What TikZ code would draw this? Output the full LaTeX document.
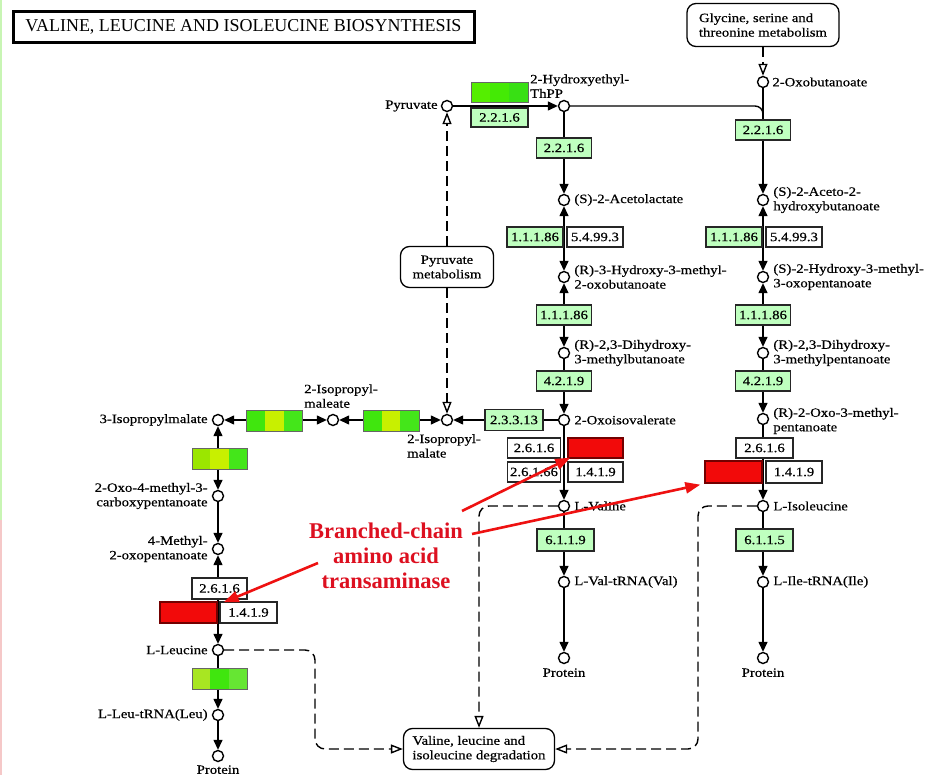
\documentclass[tikz,border=0pt]{standalone}
\usepackage{fontspec}
\setmainfont{Liberation Serif}
\newfontfamily\kf[FakeStretch=1.16,FakeBold=0.5]{Liberation Serif}
\usetikzlibrary{arrows.meta,calc}

\definecolor{enzgreen}{HTML}{BFFFBF}
\definecolor{hitred}{HTML}{F20A0A}
\definecolor{annot}{HTML}{DD1020}
\definecolor{arrred}{HTML}{EE1111}
\definecolor{gA}{HTML}{40E60E}
\definecolor{gB}{HTML}{C8F000}
\definecolor{gC}{HTML}{44E61A}
\definecolor{gD}{HTML}{9BE600}
\definecolor{gE}{HTML}{A8E622}
\definecolor{gF}{HTML}{66E633}
\definecolor{gT1}{HTML}{55EE00}
\definecolor{gT2}{HTML}{44EA05}
\definecolor{gT3}{HTML}{38E014}
\definecolor{edgegreen}{HTML}{C8F5B4}
\definecolor{edgepink}{HTML}{F5C8C8}

\tikzset{
  txt/.style={font=\kf\fontsize{12.7}{14.5}\selectfont},
  cpd/.style={circle,draw,fill=white,line width=1.4pt,minimum size=11pt,inner sep=0pt},
  ec/.style={txt,rectangle,draw=black!85,line width=1.3pt,fill=enzgreen,
             minimum width=55pt,minimum height=20pt,inner sep=0pt},
  ecw/.style={ec,fill=white},
  ecred/.style={ec,fill=hitred,draw=red!45!black},
  segbox/.style n args={3}{rectangle,draw=black!60,line width=1pt,
     minimum width=56pt,minimum height=21pt,inner sep=0pt,fill=#2,
     path picture={
       \fill[#1] (path picture bounding box.north west) rectangle
         ($(path picture bounding box.south west)!0.3333!(path picture bounding box.south east)$);
       \fill[#3] ($(path picture bounding box.north west)!0.6667!(path picture bounding box.north east)$)
         rectangle (path picture bounding box.south east);
     }},
  mapbox/.style={txt,rectangle,rounded corners=9pt,draw,line width=1.3pt,fill=white,
                 inner sep=0pt,align=left},
  lbl/.style={txt,inner sep=0pt,align=left},
  lblr/.style={txt,inner sep=0pt,align=right},
  rxn/.style={line width=1.4pt},
  fw/.style={rxn,-{Triangle[length=10pt,width=9pt]}},
  bw/.style={rxn,{Triangle[length=10pt,width=9pt]}-{Triangle[length=10pt,width=9pt]}},
  maplink/.style={line width=1.4pt,dash pattern=on 10pt off 5pt,rounded corners=10pt,
                  -{Triangle[open,length=12pt,width=9pt,fill=white]}},
  redarrow/.style={arrred,line width=2.6pt,-{Triangle[length=15pt,width=11pt]}},
}

\begin{document}
\begin{tikzpicture}[x=1pt,y=-1pt]
\useasboundingbox (0,0) rectangle (926,775);
\fill[white] (0,0) rectangle (926,775);
% thin coloured strip along the left edge
\fill[edgegreen] (0,0) rectangle (2,520);
\fill[edgepink] (0,520) rectangle (2,775);

% title
\node[draw,line width=3pt,minimum width=461pt,minimum height=31pt,inner sep=0pt] (title) at (243.5,27)
  {\resizebox{436pt}{12pt}{VALINE, LEUCINE AND ISOLEUCINE BIOSYNTHESIS}};

% ---------- compounds ----------
\node[cpd] (pyr)   at (447,106) {};
\node[cpd] (thpp)  at (564,106) {};
\node[cpd] (oxobut) at (763,82) {};
\node[cpd] (acl)   at (564,200) {};
\node[cpd] (ahb)   at (763,200) {};
\node[cpd] (hmob)  at (564,277) {};
\node[cpd] (hmop)  at (763,277) {};
\node[cpd] (dhmb)  at (564,353) {};
\node[cpd] (dhmp)  at (763,353) {};
\node[cpd] (oiv)   at (564,420) {};
\node[cpd] (omp)   at (763,419) {};
\node[cpd] (val)   at (564,506) {};
\node[cpd] (ile)   at (763,506) {};
\node[cpd] (valt)  at (564,582) {};
\node[cpd] (ilet)  at (763,582) {};
\node[cpd] (protv) at (564,658) {};
\node[cpd] (proti) at (763,658) {};
\node[cpd] (ipm)   at (447,420) {};
\node[cpd] (ipmal) at (333,420) {};
\node[cpd] (ipm3)  at (218,420) {};
\node[cpd] (omcp)  at (218,496) {};
\node[cpd] (mop)   at (218,549) {};
\node[cpd] (leu)   at (218,650) {};
\node[cpd] (leut)  at (218,715) {};
\node[cpd] (protl) at (218,756) {};

% ---------- linked maps ----------
\node[mapbox,minimum width=152pt,minimum height=43pt] (glymap) at (763,25)
  {Glycine, serine and\\threonine metabolism};
\node[mapbox,minimum width=93pt,minimum height=41pt,align=center] (pyrmap) at (447,267)
  {Pyruvate\\metabolism};
\node[mapbox,minimum width=151pt,minimum height=41pt] (degmap) at (479,749)
  {Valine, leucine and\\isoleucine degradation};

% ---------- reactions ----------
\draw[fw] (pyr) -- (thpp);
\draw[fw] (thpp) -- (acl);
\coordinate (ilejoin) at (763,125);
\draw[rxn,rounded corners=8pt] (thpp.east) -| (ilejoin);
\draw[fw] (oxobut) -- (ahb);
\draw[bw] (acl) -- (hmob);
\draw[bw] (hmob) -- (dhmb);
\draw[fw] (dhmb) -- (oiv);
\draw[bw] (ahb) -- (hmop);
\draw[bw] (hmop) -- (dhmp);
\draw[fw] (dhmp) -- (omp);
\draw[fw] (oiv) -- (val);
\draw[fw] (val) -- (valt);
\draw[fw] (valt) -- (protv);
\draw[fw] (omp) -- (ile);
\draw[fw] (ile) -- (ilet);
\draw[fw] (ilet) -- (proti);
\draw[fw] (oiv) -- (ipm);
\draw[bw] (ipm) -- (ipmal);
\draw[bw] (ipmal) -- (ipm3);
\draw[bw] (ipm3) -- (omcp);
\draw[fw] (omcp) -- (mop);
\draw[bw] (mop) -- (leu);
\draw[fw] (leu) -- (leut);
\draw[fw] (leut) -- (protl);

% ---------- links to other maps ----------
\draw[maplink] (pyrmap) -- (pyr);
\draw[maplink] (pyrmap) -- (ipm);
\draw[maplink] (glymap) -- (oxobut);
\coordinate (bendL) at (315,749);
\coordinate (bendR) at (698,749);
\draw[maplink] (leu.east) -| (bendL) -- (degmap.west);
\draw[maplink] (val.west) -| (degmap.north);
\draw[maplink] (ile.west) -| (bendR) -- (degmap.east);

% ---------- enzymes ----------
\node[segbox={gT1}{gT2}{gT3},minimum width=57pt,minimum height=20pt] (g_pdc) at (499.5,93) {};
\node[ec,minimum width=57pt,minimum height=19pt] (e_pyr) at (499.5,117.5) {2.2.1.6};
\node[ec] (e_v1) at (564,148) {2.2.1.6};
\node[ec] (e_i1) at (763,130) {2.2.1.6};
\node[ec,minimum width=56pt] (e_v2) at (535,237) {1.1.1.86};
\node[ecw,minimum width=56pt] (e_v2b) at (595,237) {5.4.99.3};
\node[ec,minimum width=56pt] (e_i2) at (734,237) {1.1.1.86};
\node[ecw,minimum width=56pt] (e_i2b) at (794,237) {5.4.99.3};
\node[ec] (e_v3) at (564,315) {1.1.1.86};
\node[ec] (e_i3) at (763,315) {1.1.1.86};
\node[ec] (e_v4) at (564,381) {4.2.1.9};
\node[ec] (e_i4) at (763,381) {4.2.1.9};
\node[ec,minimum width=58pt,minimum height=21pt] (e_ipms) at (514,420) {2.3.3.13};
\node[ecw,minimum width=53pt] (e_vt1) at (534,448) {2.6.1.6};
\node[ecred] (e_vt2) at (595.5,448) {};
\node[ecw,minimum width=53pt] (e_vt3) at (534,472) {2.6.1.66};
\node[ecw] (e_vt4) at (595.5,472) {1.4.1.9};
\node[ecw,minimum width=57pt] (e_it1) at (764.5,448) {2.6.1.6};
\node[ecred,minimum width=57pt,minimum height=22pt] (e_it2) at (733.5,472) {};
\node[ecw,minimum width=56pt,minimum height=22pt] (e_it3) at (794,472) {1.4.1.9};
\node[ec,minimum width=57pt,minimum height=22pt] (e_v5) at (565.5,540) {6.1.1.9};
\node[ec,minimum width=57pt,minimum height=22pt] (e_i5) at (764.5,540) {6.1.1.5};
\node[segbox={gA}{gB}{gC}] (g_ipmi) at (274.5,420.5) {};
\node[segbox={gA}{gB}{gC}] (g_ipmd) at (391,420.5) {};
\node[segbox={gD}{gB}{gC},minimum width=55pt] (g_lb) at (219.5,459) {};
\node[ecw,minimum width=55pt,minimum height=21pt] (e_lt1) at (219.5,588.5) {2.6.1.6};
\node[ecred,minimum width=57pt,minimum height=21pt] (e_lt2) at (188.5,612.5) {};
\node[ecw,minimum width=57pt,minimum height=21pt] (e_lt3) at (248.5,612.5) {1.4.1.9};
\node[segbox={gE}{gA}{gF},minimum width=55pt] (g_lrs) at (219.5,678.5) {};

% ---------- compound names ----------
\node[lblr,anchor=east] (t_pyr) at ([xshift=-3pt]pyr.west) {Pyruvate};
\node[lbl,anchor=south west] (t_thpp) at (530,98) {2-Hydroxyethyl-\\ThPP};
\node[lbl,anchor=west] (t_oxobut) at ([xshift=3pt]oxobut.east) {2-Oxobutanoate};
\node[lbl,anchor=west] (t_acl) at ([xshift=4pt]acl.east) {(S)-2-Acetolactate};
\node[lbl,anchor=west] (t_ahb) at ([xshift=4pt]ahb.east) {(S)-2-Aceto-2-\\hydroxybutanoate};
\node[lbl,anchor=west] (t_hmob) at ([xshift=4pt]hmob.east) {(R)-3-Hydroxy-3-methyl-\\2-oxobutanoate};
\node[lbl,anchor=west] (t_hmop) at ([xshift=4pt]hmop.east) {(S)-2-Hydroxy-3-methyl-\\3-oxopentanoate};
\node[lbl,anchor=west] (t_dhmb) at ([xshift=4pt]dhmb.east) {(R)-2,3-Dihydroxy-\\3-methylbutanoate};
\node[lbl,anchor=west] (t_dhmp) at ([xshift=4pt]dhmp.east) {(R)-2,3-Dihydroxy-\\3-methylpentanoate};
\node[lbl,anchor=west] (t_oiv) at ([xshift=4pt]oiv.east) {2-Oxoisovalerate};
\node[lbl,anchor=west] (t_omp) at ([xshift=4pt,yshift=-2pt]omp.east) {(R)-2-Oxo-3-methyl-\\pentanoate};
\node[lbl,anchor=west] (t_val) at ([xshift=4pt]val.east) {L-Valine};
\node[lbl,anchor=west] (t_ile) at ([xshift=4pt]ile.east) {L-Isoleucine};
\node[lbl,anchor=west] (t_valt) at ([xshift=4pt]valt.east) {L-Val-tRNA(Val)};
\node[lbl,anchor=west] (t_ilet) at ([xshift=4pt]ilet.east) {L-Ile-tRNA(Ile)};
\node[lbl,anchor=north] (t_protv) at ([yshift=-4pt]protv.south) {Protein};
\node[lbl,anchor=north] (t_proti) at ([yshift=-4pt]proti.south) {Protein};
\node[lbl,anchor=north] (t_protl) at ([yshift=-3pt]protl.south) {Protein};
\node[lbl,anchor=south west] (t_ipmal) at (304,408) {2-Isopropyl-\\maleate};
\node[lbl,anchor=north west] (t_ipm) at (407,434) {2-Isopropyl-\\malate};
\node[lblr,anchor=east] (t_ipm3) at ([xshift=-4pt]ipm3.west) {3-Isopropylmalate};
\node[lblr,anchor=east] (t_omcp) at ([xshift=-4pt]omcp.west) {2-Oxo-4-methyl-3-\\carboxypentanoate};
\node[lblr,anchor=east] (t_mop) at ([xshift=-4pt]mop.west) {4-Methyl-\\2-oxopentanoate};
\node[lblr,anchor=east] (t_leu) at ([xshift=-4pt]leu.west) {L-Leucine};
\node[lblr,anchor=east] (t_leut) at ([xshift=-4pt]leut.west) {L-Leu-tRNA(Leu)};

% ---------- annotation ----------
\node[font=\bfseries\fontsize{22.5}{25}\selectfont,text=annot,align=center,inner sep=0pt]
  (bcat) at (386,556) {Branched-chain\\amino acid\\transaminase};
\coordinate (s1) at (462,511);
\coordinate (s2) at (472,534);
\coordinate (s3) at (318,563);
\draw[redarrow] (s1) -- ([xshift=3pt,yshift=1pt]e_vt2.south west);
\draw[redarrow] (s2) -- ([xshift=-4pt,yshift=-1pt]e_it2.south west);
\draw[redarrow] (s3) -- ([xshift=6pt,yshift=-1pt]e_lt2.north east);
\end{tikzpicture}
\end{document}
